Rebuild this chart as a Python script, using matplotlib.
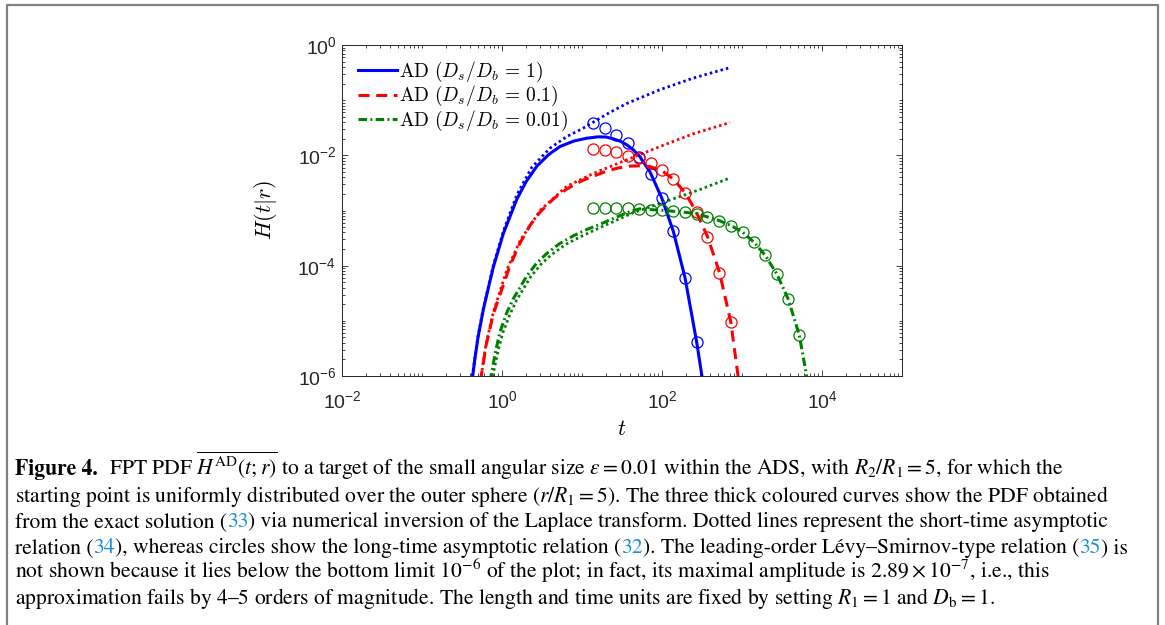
"""
First-passage-time PDF for the ADS target (figure 4), log-log plot with caption.
"""

import matplotlib
matplotlib.use("Agg")
import matplotlib.pyplot as plt
from matplotlib.lines import Line2D
from matplotlib.ticker import FixedLocator, FixedFormatter, LogLocator, NullFormatter
from matplotlib.transforms import IdentityTransform


# --- data ---
# circles: long-time asymptotic relation (same t grid for all three)
t_circ = [13.8, 19.4, 26.6, 37.9, 52.0, 72.3, 99.1, 138.4, 194.1, 271.6,
          368.1, 520.0, 729.4, 1021, 1413, 1954, 2716, 3793, 5200]
H_circ_blue = [0.0384, 0.0312, 0.0236, 0.0167, 0.0093, 0.00468, 0.0017, 4.21e-4, 6.03e-5, 4.07e-6]
H_circ_red = [0.0130, 0.0123, 0.0115, 0.00955, 0.00891, 0.00724, 0.0055, 0.00372, 0.00209,
              9.33e-4, 3.31e-4, 7.41e-5, 9.55e-6]
H_circ_green = [1.114e-3, 1.114e-3, 1.114e-3, 1.114e-3, 1.069e-3, 1.038e-3, 1.009e-3, 9.68e-4,
                9.27e-4, 8.79e-4, 7.66e-4, 6.56e-4, 5.33e-4, 4.04e-4, 2.66e-4, 1.53e-4,
                7.14e-5, 2.45e-5, 5.53e-6]

# exact solution, Ds/Db = 1
t_blue = [0.4217, 0.4571, 0.5012, 0.5834, 0.6761, 0.778, 1.0375, 1.528, 1.995, 2.716, 3.802,
          5.309, 7.943, 11.43, 15.85, 19.95, 24.55, 30.2, 36.31, 43.65, 52.0, 70.79, 99.08,
          138.4, 194.1, 271.6, 323.6]
H_blue = [7.94e-7, 2.0e-6, 5.01e-6, 1.585e-5, 3.98e-5, 9.33e-5, 3.80e-4, 1.585e-3, 3.31e-3,
          6.31e-3, 0.01023, 0.01445, 0.0182, 0.02042, 0.02163, 0.02148, 0.01995, 0.01799,
          0.01549, 0.01259, 9.77e-3, 5.01e-3, 1.70e-3, 4.21e-4, 6.03e-5, 4.07e-6, 7.94e-7]

# exact solution, Ds/Db = 0.1
t_red = [0.537, 0.631, 0.778, 1.0, 1.259, 1.679, 2.239, 2.985, 4.467, 6.442, 10.0, 13.8, 19.95,
         28.18, 39.81, 56.23, 70.79, 100, 138, 195, 269, 372, 525, 724, 912]
H_red = [7.94e-7, 3.55e-6, 1.32e-5, 3.80e-5, 1.0e-4, 2.57e-4, 5.37e-4, 9.33e-4, 1.66e-3,
         2.45e-3, 3.47e-3, 4.17e-3, 5.13e-3, 5.89e-3, 6.38e-3, 6.46e-3, 6.24e-3, 5.25e-3,
         3.72e-3, 2.09e-3, 9.33e-4, 3.31e-4, 7.41e-5, 9.55e-6, 7.94e-7]

# exact solution, Ds/Db = 0.01
t_green = [0.708, 0.832, 0.944, 1.148, 1.384, 2.037, 2.692, 3.622, 5.248, 7.762, 11.22, 16.79,
           26.92, 39.81, 52.0, 72.3, 99.1, 138.4, 194.1, 271.6, 368.1, 520.0, 729.4, 1021,
           1413, 1954, 2716, 3793, 5200, 6607]
H_green = [7.94e-7, 2.82e-6, 6.31e-6, 1.41e-5, 2.51e-5, 6.46e-5, 1.10e-4, 1.66e-4, 2.51e-4,
           3.47e-4, 4.47e-4, 5.62e-4, 7.59e-4, 9.55e-4, 1.069e-3, 1.038e-3, 1.009e-3, 9.68e-4,
           9.27e-4, 8.79e-4, 7.66e-4, 6.56e-4, 5.33e-4, 4.04e-4, 2.66e-4, 1.53e-4, 7.14e-5,
           2.45e-5, 5.53e-6, 7.94e-7]

# short-time asymptotics (dotted)
t_blue_short = [0.4169, 0.5012, 0.5834, 0.778, 1.0375, 1.528, 2.35, 3.981, 6.442, 10.0, 13.8,
                22.39, 36.31, 94.41, 245.5, 707.9]
H_blue_short = [7.94e-7, 5.25e-6, 1.66e-5, 1.0e-4, 4.17e-4, 1.905e-3, 6.03e-3, 0.01349, 0.02188,
                0.0302, 0.03981, 0.06026, 0.0871, 0.1549, 0.2512, 0.389]
t_red_short = [0.537, 0.631, 0.778, 1.146, 1.679, 2.985, 6.442, 13.8, 36.31, 94.41, 245.5, 707.9]
H_red_short = [7.94e-7, 3.80e-6, 1.41e-5, 8.32e-5, 2.82e-4, 1.0e-3, 2.75e-3, 4.68e-3, 8.32e-3,
               0.01445, 0.02455, 0.03936]
t_green_short = [0.741, 0.891, 1.021, 1.259, 1.528, 2.286, 3.09, 4.169, 6.31, 9.441, 16.79,
                 43.65, 114.8, 298.5, 707.9]
H_green_short = [7.94e-7, 2.82e-6, 6.03e-6, 1.32e-5, 2.40e-5, 6.31e-5, 1.07e-4, 1.585e-4,
                 2.45e-4, 3.31e-4, 4.90e-4, 9.12e-4, 1.48e-3, 2.40e-3, 3.89e-3]

LEGEND_LABELS = [r"$\mathrm{AD}\ (D_s/D_b \,=\, 1)$",
                 r"$\mathrm{AD}\ (D_s/D_b \,=\, 0.1)$",
                 r"$\mathrm{AD}\ (D_s/D_b \,=\, 0.01)$"]

X_TICKS = [1e-2, 1e0, 1e2, 1e4]
X_TICK_LABELS = [r"$\mathregular{10^{-2}}$", r"$\mathregular{10^{0}}$",
                 r"$\mathregular{10^{2}}$", r"$\mathregular{10^{4}}$"]
Y_TICKS = [1e-6, 1e-4, 1e-2, 1e0]
Y_TICK_LABELS = [r"$\mathregular{10^{-6}}$", r"$\mathregular{10^{-4}}$",
                 r"$\mathregular{10^{-2}}$", r"$\mathregular{10^{0}}$"]

REF = "#1e8fd2"
CAPTION = [
    [("Figure 4.", "k", "bold"),
     (r"FPT PDF $\overline{H^{\mathrm{AD}}(t;r)}$ to a target of the small angular size "
      r"$\varepsilon = 0.01$ within the ADS, with $R_2/R_1 = 5$, for which the", "k", "normal")],
    [(r"starting point is uniformly distributed over the outer sphere $(r/R_1 = 5)$. "
      r"The three thick coloured curves show the PDF obtained", "k", "normal")],
    [("from the exact solution (", "k", "normal"), ("33", REF, "normal"),
     (") via numerical inversion of the Laplace transform. Dotted lines represent the "
      "short-time asymptotic", "k", "normal")],
    [("relation (", "k", "normal"), ("34", REF, "normal"),
     ("), whereas circles show the long-time asymptotic relation (", "k", "normal"),
     ("32", REF, "normal"),
     ("). The leading-order L\u00e9vy\u2013Smirnov-type relation (", "k", "normal"),
     ("35", REF, "normal"), (") is", "k", "normal")],
    [(r"not shown because it lies below the bottom limit $10^{-6}$ of the plot; in fact, its "
      r"maximal amplitude is $2.89\times10^{-7}$, i.e., this", "k", "normal")],
    [("approximation fails by 4\u20135 orders of magnitude. The length and time units are "
      r"fixed by setting $R_1 = 1$ and $D_\mathrm{b} = 1$.", "k", "normal")],
]


# --- figure ---
W, H = 1165, 625
fig = plt.figure(figsize=(W / 100, H / 100), dpi=100)

# outer frame
frame_kw = dict(color="#808080", lw=1.6, transform=fig.transFigure, solid_capstyle="butt")
fig.add_artist(Line2D([7 / W, 7 / W, 1158 / W, 1158 / W],
                      [0, 1 - 4.5 / H, 1 - 4.5 / H, 0], **frame_kw))

ax = fig.add_axes([342 / W, 1 - 376 / H, (902 - 342) / W, (376 - 45) / H])
ax.set_xscale("log")
ax.set_yscale("log")

lw = 2.2
l1, = ax.plot(t_blue, H_blue, color="blue", lw=lw)
l2, = ax.plot(t_red, H_red, color="red", lw=lw, dashes=(3.6, 2.2))
l3, = ax.plot(t_green, H_green, color="#008000", lw=lw, dashes=(2.8, 1.1, 0.6, 1.1))

dot_kw = dict(lw=2.0, dashes=(0.9, 1.1))
ax.plot(t_blue_short, H_blue_short, color="blue", **dot_kw)
ax.plot(t_red_short, H_red_short, color="red", **dot_kw)
ax.plot(t_green_short, H_green_short, color="#008000", **dot_kw)

circ_kw = dict(ls="none", marker="o", ms=8, mfc="none", mew=0.9)
ax.plot(t_circ[:len(H_circ_blue)], H_circ_blue, mec="blue", **circ_kw)
ax.plot(t_circ[:len(H_circ_red)], H_circ_red, mec="red", **circ_kw)
ax.plot(t_circ[:len(H_circ_green)], H_circ_green, mec="#008000", **circ_kw)

ax.set_xlim(1e-2, 1e5)
ax.set_ylim(1e-6, 1e0)

ax.xaxis.set_major_locator(FixedLocator(X_TICKS))
ax.xaxis.set_major_formatter(FixedFormatter(X_TICK_LABELS))
ax.yaxis.set_major_locator(FixedLocator(Y_TICKS))
ax.yaxis.set_major_formatter(FixedFormatter(Y_TICK_LABELS))
for axis in (ax.xaxis, ax.yaxis):
    axis.set_minor_locator(LogLocator(base=10, subs=range(1, 10), numticks=30))
    axis.set_minor_formatter(NullFormatter())
for lab in ax.get_xticklabels() + ax.get_yticklabels():
    lab.set_fontfamily("Liberation Sans")
    lab.set_fontsize(14)
    lab.set_color("#262626")

ax.tick_params(which="both", direction="in", top=True, right=True, width=0.6, color="#262626")
ax.tick_params(which="major", length=4.5)
ax.tick_params(which="minor", length=2.5)
ax.tick_params(axis="x", pad=10)
ax.tick_params(axis="y", pad=4)
for sp in ax.spines.values():
    sp.set_linewidth(0.7)
    sp.set_color("#262626")

ax.set_xlabel(r"$t$", fontsize=16, math_fontfamily="cm")
ax.xaxis.set_label_coords(0.5, -0.13)
ax.set_ylabel(r"$H(t|r)$", fontsize=16, math_fontfamily="cm")
ax.yaxis.set_label_coords(-0.112, 0.5)

leg = ax.legend([l1, l2, l3], LEGEND_LABELS, loc="upper left", bbox_to_anchor=(0.028, 0.954),
                frameon=False, fontsize=14, handlelength=2.0, handletextpad=0.15,
                labelspacing=0.0, borderpad=0, borderaxespad=0)
for txt in leg.get_texts():
    txt.set_math_fontfamily("cm")

# --- caption, drawn segment by segment so reference numbers can be coloured ---
fig.canvas.draw()
renderer = fig.canvas.get_renderer()
cap_fs = 15.6
baselines = [475, 502, 527, 553, 578, 604]
for line, y_img in zip(CAPTION, baselines):
    x = 15
    for text, color, weight in line:
        t = fig.text(x, H - y_img, text, transform=IdentityTransform(), fontsize=cap_fs,
                     family="STIXGeneral", math_fontfamily="stix", color=color,
                     fontweight=weight, va="baseline", ha="left")
        bb = t.get_window_extent(renderer)
        x = bb.x1 + (11 if weight == "bold" else 0)

fig.savefig("out.png", dpi=100)
